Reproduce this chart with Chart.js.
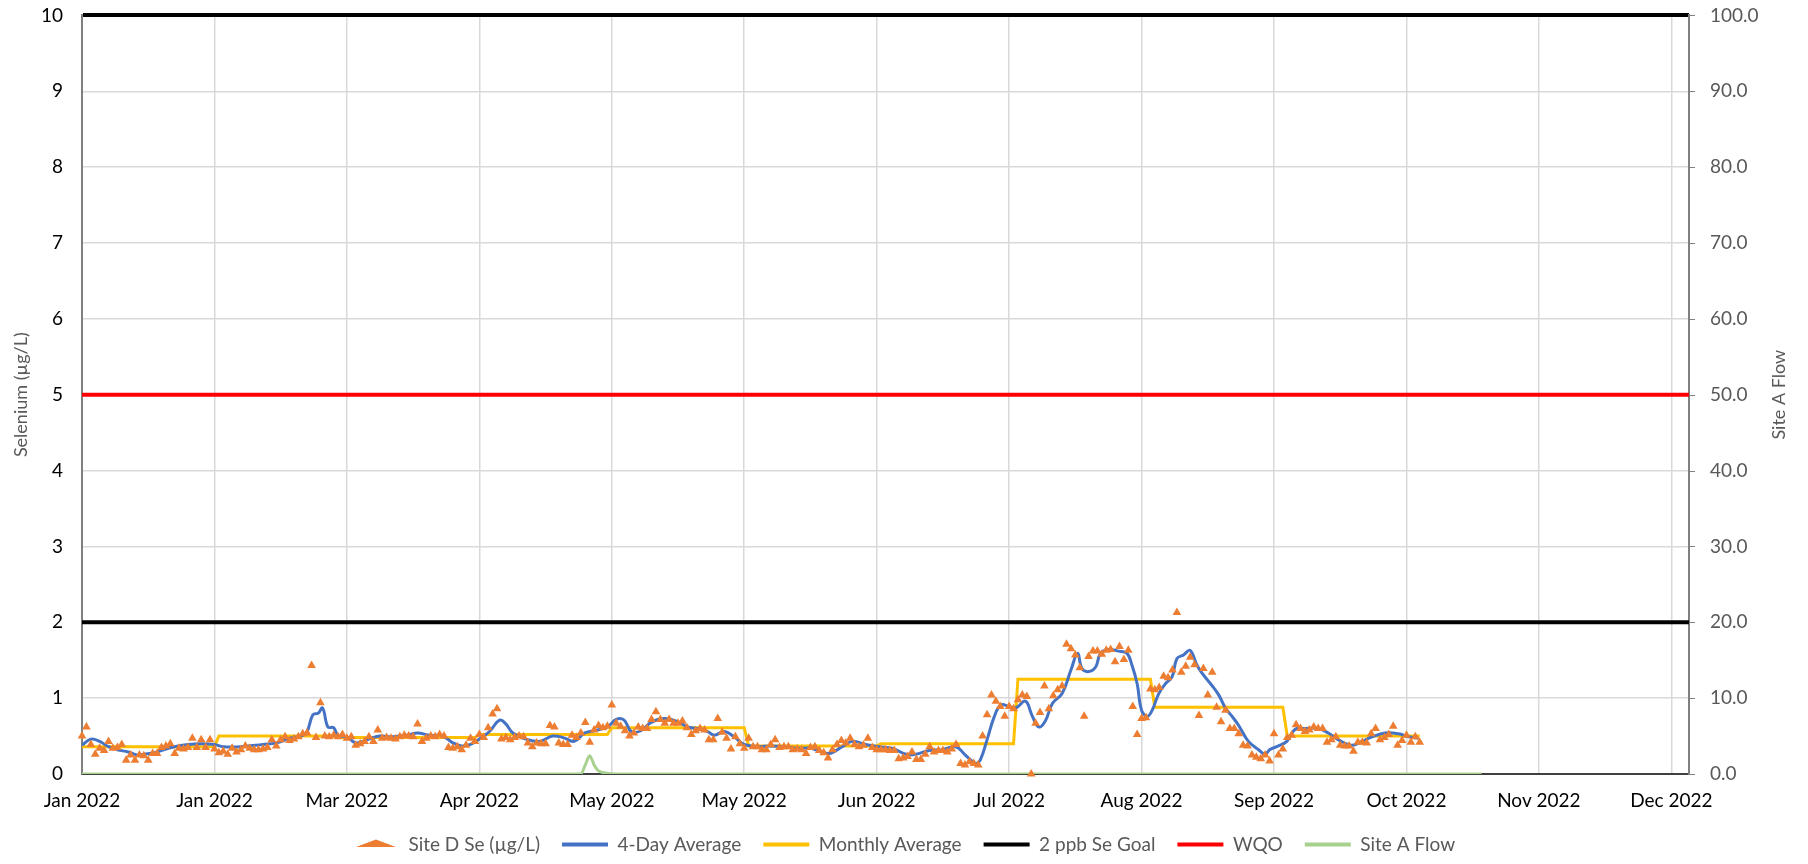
<!DOCTYPE html>
<html>
<head>
<meta charset="utf-8">
<title>Site D Selenium</title>
<script src="https://cdn.jsdelivr.net/npm/chart.js@4.4.1/dist/chart.umd.min.js"></script>
<style>
  html, body { margin: 0; padding: 0; background: #fff; }
  .chart-box { position: relative; width: 1808px; height: 864px; }
</style>
</head>
<body>
<div class="chart-box"><canvas id="chart_se"></canvas></div>
<script>
// x axis is days counted from 1 Jan 2022
const monthNames = ["Jan", "Feb", "Mar", "Apr", "May", "Jun", "Jul", "Aug", "Sep", "Oct", "Nov", "Dec"];
const xTickDays = [0, 30, 60, 90, 120, 150, 180, 210, 240, 270, 300, 330, 360];

// Site D Se (ug/L), one value per day from 1 Jan
const seValues = [
  0.50, 0.62, 0.39, 0.26, 0.34, 0.31, 0.43, 0.34, 0.35, 0.39,
  0.18, 0.25, 0.18, 0.25, 0.24, 0.18, 0.27, 0.27, 0.35, 0.37,
  0.40, 0.27, 0.34, 0.33, 0.35, 0.47, 0.35, 0.45, 0.35, 0.45,
  0.33, 0.28, 0.30, 0.26, 0.34, 0.29, 0.32, 0.37, 0.34, 0.32,
  0.32, 0.33, 0.35, 0.45, 0.37, 0.45, 0.49, 0.44, 0.46, 0.49,
  0.53, 0.54, 1.43, 0.48, 0.94, 0.50, 0.49, 0.51, 0.49, 0.52,
  0.47, 0.49, 0.38, 0.40, 0.43, 0.49, 0.43, 0.58, 0.47, 0.48,
  0.47, 0.46, 0.49, 0.51, 0.50, 0.49, 0.66, 0.43, 0.47, 0.50,
  0.49, 0.52, 0.50, 0.35, 0.34, 0.36, 0.32, 0.38, 0.47, 0.43,
  0.52, 0.48, 0.61, 0.79, 0.86, 0.46, 0.48, 0.45, 0.48, 0.50,
  0.49, 0.41, 0.36, 0.41, 0.40, 0.40, 0.64, 0.62, 0.41, 0.39,
  0.39, 0.51, 0.48, 0.54, 0.68, 0.42, 0.58, 0.64, 0.61, 0.63,
  0.91, 0.67, 0.63, 0.57, 0.50, 0.54, 0.62, 0.60, 0.60, 0.72,
  0.82, 0.72, 0.67, 0.72, 0.67, 0.67, 0.70, 0.61, 0.52, 0.57,
  0.60, 0.58, 0.45, 0.45, 0.73, 0.55, 0.47, 0.33, 0.49, 0.40,
  0.34, 0.47, 0.36, 0.36, 0.32, 0.32, 0.39, 0.45, 0.35, 0.36,
  0.36, 0.32, 0.33, 0.32, 0.27, 0.35, 0.36, 0.31, 0.28, 0.21,
  0.32, 0.39, 0.44, 0.41, 0.47, 0.39, 0.36, 0.38, 0.47, 0.35,
  0.32, 0.32, 0.32, 0.31, 0.31, 0.20, 0.21, 0.23, 0.29, 0.19,
  0.19, 0.26, 0.36, 0.29, 0.31, 0.31, 0.29, 0.33, 0.39, 0.14,
  0.12, 0.16, 0.14, 0.12, 0.50, 0.78, 1.04, 0.96, 0.89, 0.76,
  0.89, 0.86, 0.98, 1.04, 1.02, 0.00, 0.67, 0.81, 1.16, 0.86,
  1.03, 1.11, 1.16, 1.71, 1.65, 1.57, 1.40, 0.76, 1.55, 1.62,
  1.62, 1.58, 1.63, 1.64, 1.48, 1.68, 1.51, 1.63, 0.89, 0.52,
  0.73, 0.74, 1.12, 1.11, 1.14, 1.29, 1.27, 1.37, 2.13, 1.34,
  1.42, 1.54, 1.44, 0.77, 1.39, 1.04, 1.34, 0.88, 0.69, 0.84,
  0.60, 0.60, 0.53, 0.38, 0.37, 0.25, 0.22, 0.20, 0.25, 0.17,
  0.53, 0.25, 0.33, 0.48, 0.51, 0.65, 0.60, 0.56, 0.58, 0.62,
  0.60, 0.60, 0.42, 0.45, 0.49, 0.38, 0.37, 0.37, 0.30, 0.42,
  0.42, 0.41, 0.53, 0.60, 0.45, 0.48, 0.52, 0.63, 0.38, 0.44,
  0.51, 0.42, 0.49, 0.42
];

// 4-day average
const avgDays = [
  0, 2, 4, 6, 8, 10.5, 12.5, 14, 16.5, 19, 21, 24, 27, 30, 32, 36, 41, 44, 47, 50,
  51, 52.3, 53.5, 54.5, 55.7, 57, 58, 60, 62, 64.5, 67.4, 70.4, 73.5, 76, 78.7, 81.7, 84, 86, 88, 90,
  92.3, 94.6, 96, 97.6, 100.6, 103.6, 106.6, 109, 111.5, 113.8, 116, 119, 121, 122.8, 124.4, 126.6, 128.9, 131.9, 134.9, 137.2,
  139.4, 141.7, 143.2, 145.5, 147.7, 150, 153, 156, 159, 162, 165, 166.2, 169.2, 172.2, 174.5, 177.5, 180.5, 183.5, 186.6, 188.8,
  191.9, 194.9, 197.9, 200.1, 202.4, 203.5, 205, 206.6, 208.1, 210, 211.5, 213.7, 215.2, 216.7, 218.2, 219.8, 222, 224, 225.5, 226.5,
  228, 229.6, 230.7, 232.6, 234.8, 236.7, 237.8, 239, 240, 241.3, 242.4, 243.9, 245.4, 246.9, 248, 249.5, 251, 252.5, 253.7, 255.9,
  257.5, 259, 260.5, 262, 264.2, 266.5, 268, 269, 271, 272.9, 274.8, 277, 280, 282.3, 284.6, 287.6, 289.9, 292.2, 295.2, 298.2,
  300.5, 302.7
];
const avgValues = [
  0.38, 0.46, 0.43, 0.36, 0.32, 0.29, 0.25, 0.26, 0.28, 0.33, 0.36, 0.39, 0.40, 0.39, 0.36, 0.36, 0.39, 0.41, 0.47, 0.51,
  0.56, 0.78, 0.80, 0.87, 0.62, 0.61, 0.51, 0.49, 0.41, 0.45, 0.50, 0.49, 0.51, 0.54, 0.51, 0.50, 0.41, 0.37, 0.39, 0.46,
  0.56, 0.71, 0.66, 0.54, 0.46, 0.43, 0.50, 0.48, 0.43, 0.54, 0.57, 0.62, 0.72, 0.71, 0.56, 0.57, 0.68, 0.73, 0.69, 0.62,
  0.60, 0.56, 0.51, 0.56, 0.49, 0.39, 0.36, 0.37, 0.36, 0.34, 0.34, 0.32, 0.27, 0.36, 0.43, 0.39, 0.36, 0.34, 0.26, 0.26,
  0.31, 0.32, 0.36, 0.25, 0.14, 0.19, 0.45, 0.75, 0.91, 0.89, 0.87, 0.96, 0.77, 0.62, 0.70, 0.93, 1.06, 1.37, 1.59, 1.39,
  1.35, 1.41, 1.59, 1.64, 1.62, 1.59, 1.44, 1.19, 0.84, 0.76, 0.84, 1.06, 1.19, 1.28, 1.52, 1.57, 1.63, 1.44, 1.33, 1.17,
  1.04, 0.87, 0.76, 0.64, 0.43, 0.32, 0.26, 0.32, 0.37, 0.43, 0.59, 0.60, 0.60, 0.54, 0.45, 0.38, 0.43, 0.49, 0.54, 0.53,
  0.49, 0.47
];

// monthly averages, Jan to Oct
const monthStart = [0, 31, 59, 90, 120, 151, 181, 212, 243, 273];
const monthEnd = [30, 58, 89, 119, 150, 180, 211, 242, 272, 303];
const monthValues = [0.36, 0.50, 0.48, 0.52, 0.61, 0.37, 0.40, 1.25, 0.88, 0.50];

const goalValue = 2;
const wqoValue = 5;

// Site A Flow (right axis)
const flowDays = [0, 113, 114, 115, 116, 117, 118, 119, 120, 317];
const flowValues = [0, 0, 1.2, 2.4, 1.2, 0.4, 0.2, 0.1, 0, 0];

const seData = seValues.map((v, i) => ({x: i, y: v}));
const avgData = avgDays.map((d, i) => ({x: d, y: avgValues[i]}));
let monthData = [];
for (let i = 0; i < monthStart.length; i++) {
  monthData.push({x: monthStart[i], y: monthValues[i]});
  monthData.push({x: monthEnd[i], y: monthValues[i]});
}
const flowData = flowDays.map((d, i) => ({x: d, y: flowValues[i]}));

const fontFamily = "Lato, 'Liberation Sans', sans-serif";
Chart.defaults.font.family = fontFamily;
Chart.defaults.font.size = 19;

function dayLabel(day) {
  const date = new Date(2022, 0, 1 + day);
  return monthNames[date.getMonth()] + " " + date.getFullYear();
}

// right axis: short outside tick marks and a title that reads bottom to top
const flowAxisExtras = {
  id: "flowAxisExtras",
  afterDraw(chart) {
    const ctx = chart.ctx;
    const area = chart.chartArea;
    const y2 = chart.scales.y2;
    ctx.save();
    ctx.strokeStyle = "#808080";
    ctx.lineWidth = 1;
    y2.ticks.forEach(function(t) {
      const py = Math.round(y2.getPixelForValue(t.value)) + 0.5;
      ctx.beginPath();
      ctx.moveTo(area.right, py);
      ctx.lineTo(area.right + 6, py);
      ctx.stroke();
    });
    ctx.translate(y2.right - 29, (area.top + area.bottom) / 2);
    ctx.rotate(-Math.PI / 2);
    ctx.font = "18px " + fontFamily;
    ctx.fillStyle = "#595959";
    ctx.textAlign = "center";
    ctx.textBaseline = "middle";
    ctx.fillText("Site A Flow", 0, 0);
    ctx.restore();
  }
};

const ctx_se = document.querySelector("#chart_se").getContext("2d");

const seChart = new Chart(ctx_se, {
  type: "line",
  data: {
    datasets: [
      {
        label: "Site D Se (µg/L)",
        data: seData,
        showLine: false,
        pointStyle: "triangle",
        pointRadius: 5,
        pointBorderWidth: 0,
        pointBackgroundColor: "#ED7D31",
        borderColor: "#ED7D31",
        backgroundColor: "#ED7D31",
        clip: false,
        yAxisID: "y"
      },
      {
        label: "4-Day Average",
        data: avgData,
        borderColor: "#4472C4",
        borderWidth: 3,
        pointRadius: 0,
        tension: 0.4,
        yAxisID: "y"
      },
      {
        label: "Monthly Average",
        data: monthData,
        borderColor: "#FFC000",
        borderWidth: 3,
        pointRadius: 0,
        yAxisID: "y"
      },
      {
        label: "2 ppb Se Goal",
        data: [{x: 0, y: goalValue}, {x: 364, y: goalValue}],
        borderColor: "#000000",
        borderWidth: 4,
        pointRadius: 0,
        yAxisID: "y"
      },
      {
        label: "WQO",
        data: [{x: 0, y: wqoValue}, {x: 364, y: wqoValue}],
        borderColor: "#FF0000",
        borderWidth: 4,
        pointRadius: 0,
        yAxisID: "y"
      },
      {
        label: "Site A Flow",
        data: flowData,
        borderColor: "#A9D18E",
        borderWidth: 3,
        pointRadius: 0,
        cubicInterpolationMode: "monotone",
        yAxisID: "y2"
      }
    ]
  },
  options: {
    responsive: true,
    maintainAspectRatio: false,
    animation: false,
    layout: { padding: { top: 15, left: 0, right: 0, bottom: 0 } },
    plugins: {
      tooltip: { enabled: false },
      legend: {
        position: "bottom",
        labels: {
          color: "#595959",
          font: { size: 19 },
          usePointStyle: true,
          pointStyleWidth: 46,
          boxHeight: 7,
          padding: 22,
          generateLabels: function(chart) {
            return chart.data.datasets.map(function(ds, i) {
              return {
                text: ds.label,
                fillStyle: ds.borderColor,
                strokeStyle: ds.borderColor,
                lineWidth: i === 0 ? 0 : 4,
                pointStyle: i === 0 ? "triangle" : "line",
                fontColor: "#595959",
                hidden: false,
                datasetIndex: i
              };
            });
          }
        }
      }
    },
    scales: {
      x: {
        type: "linear",
        min: 0,
        max: 364,
        afterBuildTicks: function(scale) {
          scale.ticks = xTickDays.map(d => ({value: d}));
        },
        afterFit: function(scale) { scale.height = 39; },
        ticks: {
          color: "#000000",
          padding: 15,
          autoSkip: false,
          maxRotation: 0,
          callback: function(value) { return dayLabel(value); }
        },
        grid: { color: "#d9d9d9", lineWidth: 1.5, drawTicks: false },
        border: { color: "#404040", width: 2 }
      },
      y: {
        position: "left",
        min: 0,
        max: 10,
        afterFit: function(scale) { scale.width = 82; },
        ticks: { stepSize: 1, color: "#000000", padding: 0 },
        grid: {
          drawTicks: true,
          tickLength: 19,
          tickColor: "rgba(0,0,0,0)",
          color: ctx => ctx.tick.value === 10 ? "#000000" : "#d9d9d9",
          lineWidth: ctx => ctx.tick.value === 10 ? 4 : 1.5
        },
        border: { color: "#808080", width: 2 },
        title: { display: true, text: "Selenium (µg/L)", color: "#595959", padding: { top: 10 }, font: { size: 18 } }
      },
      y2: {
        position: "right",
        min: 0,
        max: 100,
        afterFit: function(scale) { scale.width = 119; },
        ticks: {
          stepSize: 10,
          color: "#595959",
          padding: 4,
          callback: v => v.toFixed(1)
        },
        grid: { drawOnChartArea: false, drawTicks: true, tickLength: 17, tickColor: "rgba(0,0,0,0)" },
        border: { color: "#808080", width: 2 }
      }
    }
  },
  plugins: [flowAxisExtras]
});
</script>
</body>
</html>
